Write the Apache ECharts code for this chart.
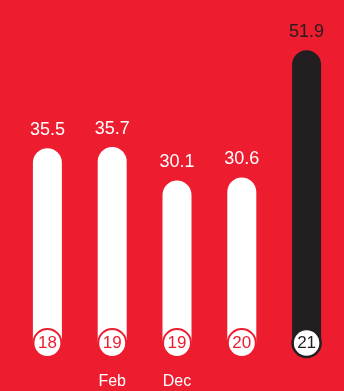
<!DOCTYPE html>
<html>
<head>
<meta charset="utf-8">
<script src="https://cdn.jsdelivr.net/npm/echarts@6/dist/echarts.min.js"></script>
<style>
html,body{margin:0;padding:0;background:#EE1C2F;}
#c{width:344px;height:391px;}
</style>
</head>
<body>
<div id="c"></div>
<script>
const categories = ['', 'Feb', 'Dec', '', ''];
const years = ['18', '19', '19', '20', '21'];
const values = [35.5, 35.7, 30.1, 30.6, 51.9];
const highlighted = [false, false, false, false, true];

const RED = '#EE1C2F';
const DARK = '#231F20';
const WHITE = '#FFFFFF';
const BASE = 2.85;

const chart = echarts.init(document.getElementById('c'));
chart.setOption({
  backgroundColor: RED,
  animation: false,
  grid: { left: 15, right: 5, top: 2, bottom: 31 },
  xAxis: {
    type: 'category',
    data: categories,
    axisLine: { show: false },
    axisTick: { show: false },
    axisLabel: { color: WHITE, fontSize: 16, fontFamily: 'Liberation Sans', margin: 14 }
  },
  yAxis: {
    type: 'value', min: 0, max: 60, show: false,
    splitLine: { show: false }
  },
  series: [
    {
      type: 'bar', stack: 'a', barWidth: 29, silent: true,
      data: values.map(() => BASE),
      itemStyle: { color: 'rgba(0,0,0,0)' }
    },
    {
      type: 'bar', stack: 'a', barWidth: 29,
      data: values.map((v, i) => ({
        value: v - BASE,
        itemStyle: { color: highlighted[i] ? DARK : WHITE, borderRadius: [15, 15, 0, 0] },
        label: { color: highlighted[i] ? DARK : WHITE }
      })),
      label: {
        show: true, position: 'top', distance: 9,
        fontSize: 18, fontFamily: 'Liberation Sans',
        formatter: p => values[p.dataIndex].toFixed(1)
      }
    },
    {
      type: 'scatter', symbol: 'circle', symbolSize: 28, z: 5,
      data: values.map((v, i) => ({
        value: [i, BASE],
        itemStyle: { color: WHITE, opacity: 1, borderColor: highlighted[i] ? DARK : RED, borderWidth: highlighted[i] ? 2.5 : 2 },
        label: { color: highlighted[i] ? DARK : RED }
      })),
      label: {
        show: true, position: 'inside',
        fontSize: 17, fontFamily: 'Liberation Sans',
        textBorderWidth: 0, textShadowBlur: 0,
        formatter: p => years[p.dataIndex]
      }
    }
  ]
});
</script>
</body>
</html>
